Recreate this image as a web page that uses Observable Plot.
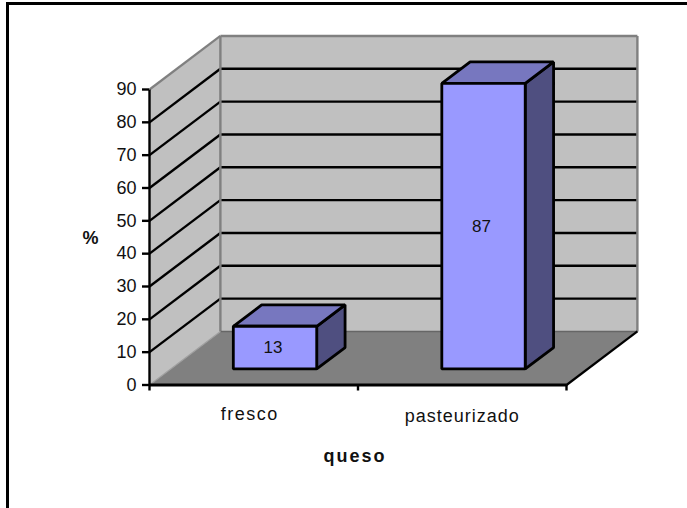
<!DOCTYPE html>
<html>
<head>
<meta charset="utf-8">
<script src="https://cdn.jsdelivr.net/npm/d3@7"></script>
<script src="https://cdn.jsdelivr.net/npm/@observablehq/plot@0.6"></script>
<style>
  html, body { margin: 0; padding: 0; background: #fff; overflow: hidden; }
  #chart { position: absolute; left: 0; top: 0; width: 687px; height: 508px; }
  #chart svg { display: block; }
  #sheet { position: absolute; left: 6px; top: 2px; width: 700px; height: 520px;
           border-left: 3px solid #000; border-top: 3px solid #000; }
</style>
</head>
<body>
<div id="sheet"></div>
<div id="chart"></div>
<script>
// Survey result: share of each cheese type
const categories = ["fresco", "pasteurizado"];
const values = [13, 87];
const valueTicks = [0, 10, 20, 30, 40, 50, 60, 70, 80, 90];
const wallTop = 90;

// Oblique projection: depth 0 is the front of the floor, depth 1 the back wall.
// Positions are in scale units: one category across, one percent up.
const shearX = 0.34;
const shearY = 16.3;
const at = (c, v, d) => ({x: c + d * shearX, y: v + d * shearY});
const barFront = 0.3, barBack = 0.7, barLeft = 0.3, barRight = 0.7;

const face = (corners, fill, stroke = "none", strokeWidth = 1) =>
  Plot.line(corners, {x: "x", y: "y", curve: "linear-closed", fill, stroke, strokeWidth, strokeLinejoin: "miter"});
const edge = (a, b, stroke, strokeWidth) =>
  Plot.line([a, b], {x: "x", y: "y", stroke, strokeWidth, strokeLinecap: "butt"});

const gridMarks = valueTicks.slice(1, -1).flatMap(v => [
  edge(at(0, v, 0), at(0, v, 1), "#000", 2.4),
  edge(at(0, v, 1), at(2, v, 1), "#000", 2.4)
]);

const barMarks = categories.flatMap((_, i) => {
  const v = values[i], l = i + barLeft, r = i + barRight;
  return [
    face([at(r, 0, barFront), at(r, 0, barBack), at(r, v, barBack), at(r, v, barFront)], "#4f4f80", "#000", 2.8),
    face([at(l, v, barFront), at(r, v, barFront), at(r, v, barBack), at(l, v, barBack)], "#7777bf", "#000", 2.8),
    face([at(l, 0, barFront), at(r, 0, barFront), at(r, v, barFront), at(l, v, barFront)], "#9999ff", "#000", 2.8)
  ];
});

const valueLabels = Plot.text(categories.map((_, i) => ({
  ...at(i + 0.5, values[i] / 2, barFront), label: String(values[i])
})), {x: "x", y: "y", text: "label", fontSize: 17, dx: -2, fill: "#111"});

const plot = Plot.plot({
  width: 687,
  height: 508,
  marginLeft: 149,
  marginRight: 121,
  marginTop: 89,
  marginBottom: 123.5,
  style: {fontFamily: "'Liberation Sans', Arial, sans-serif", background: "transparent", overflow: "visible"},
  x: {domain: [0, 2]},
  y: {domain: [0, 90]},
  marks: [
    // Walls and floor
    face([at(0, 0, 0), at(0, 0, 1), at(0, wallTop, 1), at(0, wallTop, 0)], "#c0c0c0"),
    face([at(0, 0, 1), at(2, 0, 1), at(2, wallTop, 1), at(0, wallTop, 1)], "#c0c0c0"),
    face([at(0, 0, 0), at(2, 0, 0), at(2, 0, 1), at(0, 0, 1)], "#808080"),
    ...gridMarks,
    // Outline of the walls
    edge(at(0, wallTop, 0), at(0, wallTop, 1), "#808080", 2.2),
    edge(at(0, wallTop, 1), at(2, wallTop, 1), "#808080", 2.4),
    edge(at(2, wallTop, 1), at(2, 0, 1), "#808080", 2.4),
    edge(at(0, wallTop, 1), at(0, 0, 1), "#808080", 2.4),
    edge(at(0, 0, 1), at(2, 0, 1), "#666666", 1.6),
    edge(at(0, 0, 0), at(0, 0, 1), "#a0a0a0", 1.2),
    edge(at(2, 0, 0), at(2, 0, 1), "#000", 2.2),
    ...barMarks,
    valueLabels,
    // Front axes
    edge(at(0, 0, 0), at(0, wallTop, 0), "#000", 2.4),
    edge(at(0, 0, 0), at(2, 0, 0), "#000", 2.8),
    Plot.axisY({ticks: valueTicks, tickSize: 7, tickPadding: 6, fontSize: 18, label: null, stroke: "#000", strokeWidth: 2.4, fill: "#111"}),
    Plot.axisX({ticks: [0, 1, 2], tickSize: 6, tickFormat: () => "", label: null, stroke: "#000", strokeWidth: 2.4}),
    // Category and axis titles
    Plot.text([categories[0]], {x: [0.5], y: [0], text: d => d, dy: 29, dx: -4, fontSize: 18, fill: "#111"}),
    Plot.text([categories[1]], {x: [1.5], y: [0], text: d => d, dy: 31, fontSize: 18, fill: "#111"}),
    Plot.text(["%"], {frameAnchor: "left", y: [44.7], text: d => d, dx: -59, textAnchor: "middle", fontSize: 18, fontWeight: "bold", fill: "#111"}),
    Plot.text(["queso"], {x: [1], y: [0], text: d => d, dy: 71, dx: -3, fontSize: 18, fontWeight: "bold", fill: "#111"})
  ]
});

// Wider tracking on the category names and the axis title
const tracking = new Map([["fresco", "1.5px"], ["pasteurizado", "1px"], ["queso", "2px"]]);
d3.select(plot).selectAll("text")
  .filter(function() { return tracking.has(this.textContent); })
  .style("letter-spacing", function() { return tracking.get(this.textContent); });

document.getElementById("chart").append(plot);
</script>
</body>
</html>
